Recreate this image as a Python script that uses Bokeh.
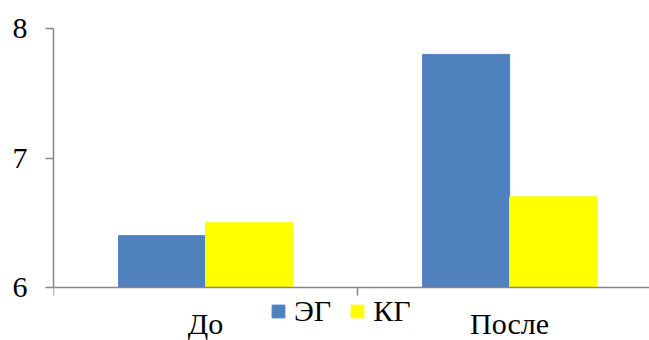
from bokeh.plotting import figure
from bokeh.models import Range1d, FixedTicker, ColumnDataSource, Legend, LegendItem
from bokeh.transform import dodge
from bokeh.embed import file_html
from bokeh.resources import INLINE

# Data
categories = ["До", "После"]
series_names = ["ЭГ", "КГ"]
eg_values = [6.4, 7.8]
kg_values = [6.5, 6.7]
y_ticks = [6, 7, 8]

FONT = "Liberation Serif"
AXIS_COLOR = "#868686"
BLUE = "#4F81BD"
YELLOW = "#FFFF00"

# Layout (pixels)
W, H = 649, 340
TOP, LEFT = 28, 53
BASE_Y = 287  # where the value axis starts
px_per_unit = (BASE_Y - TOP) / (y_ticks[-1] - y_ticks[0])
y_start = y_ticks[0] - (H - BASE_Y) / px_per_unit

centers = [i + 0.5 for i in range(len(categories))]
bar_w = 0.286

p = figure(width=W, height=H, output_backend="svg", toolbar_location=None,
           x_range=Range1d(0, 1.96), y_range=Range1d(y_start, y_ticks[-1]),
           min_border_left=LEFT, min_border_right=0, min_border_top=TOP,
           min_border_bottom=0)
p.outline_line_color = None
p.grid.visible = False

src = ColumnDataSource(dict(center=centers, eg=eg_values, kg=kg_values))
r_eg = p.vbar(x=dodge("center", -bar_w / 2), top="eg", bottom=y_ticks[0],
              width=bar_w, source=src, fill_color=BLUE, line_color=BLUE)
r_kg = p.vbar(x=dodge("center", bar_w / 2), top="kg", bottom=y_ticks[0],
              width=bar_w, source=src, fill_color=YELLOW, line_color=YELLOW)

# Category axis sits on the value 6; ticks mark the category boundaries
xa = p.xaxis[0]
xa.fixed_location = y_ticks[0]
xa.ticker = FixedTicker(ticks=centers, minor_ticks=list(range(len(categories) + 1)))
xa.major_label_overrides = {c: lab for c, lab in zip(centers, categories)}
xa.major_tick_out = 0
xa.major_tick_in = 0
xa.minor_tick_out = 8
xa.minor_tick_in = 0
xa.minor_tick_line_color = AXIS_COLOR
xa.minor_tick_line_width = 1.5
xa.axis_line_color = AXIS_COLOR
xa.axis_line_width = 1.5
xa.major_label_standoff = 11
xa.major_label_text_font = FONT
xa.major_label_text_font_size = "30px"
xa.major_label_text_color = "black"

ya = p.yaxis[0]
ya.bounds = (y_ticks[0], y_ticks[-1])
ya.ticker = FixedTicker(ticks=y_ticks, minor_ticks=[])
ya.major_tick_out = 8
ya.major_tick_in = 0
ya.major_tick_line_color = AXIS_COLOR
ya.major_tick_line_width = 1.5
ya.axis_line_color = AXIS_COLOR
ya.axis_line_width = 1.5
ya.major_label_standoff = 18
ya.major_label_text_font = FONT
ya.major_label_text_font_size = "30px"
ya.major_label_text_color = "black"

legend = Legend(items=[LegendItem(label=series_names[0], renderers=[r_eg]),
                       LegendItem(label=series_names[1], renderers=[r_kg])],
                orientation="horizontal", location=(217, 12),
                glyph_width=16, glyph_height=16, label_standoff=8, spacing=18,
                padding=0, margin=0, border_line_color=None,
                background_fill_alpha=0,
                label_text_font=FONT, label_text_font_size="30px",
                label_text_color="black")
p.add_layout(legend, "center")

open("out.html", "w").write(file_html(p, INLINE))
